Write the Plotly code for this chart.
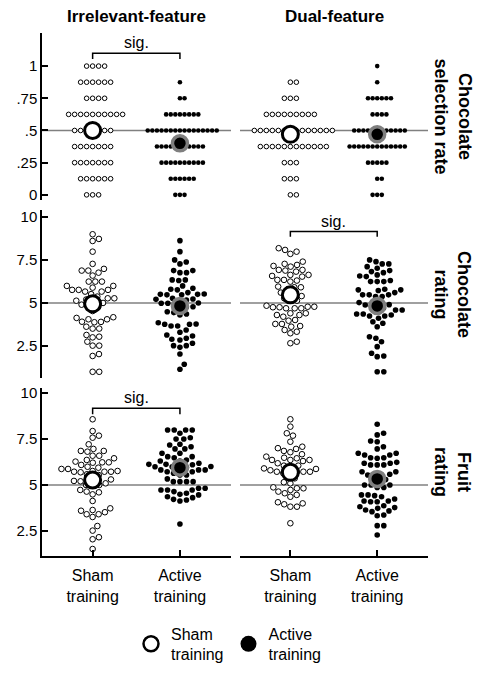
import numpy as np
import plotly.graph_objects as go

# ---- data ----
groups = ["Sham<br>training", "Active<br>training"]
conditions = ["Irrelevant-feature", "Dual-feature"]
measures = ["Chocolate<br>selection rate", "Chocolate<br>rating", "Fruit<br>rating"]

# chocolate selection rate: number of participants at each level
sel_levels = [0, 0.125, 0.25, 0.375, 0.5, 0.625, 0.75, 0.875, 1]
irr_sham_sel_counts = [3, 6, 7, 7, 7, 10, 4, 6, 4]
irr_active_sel_counts = [3, 6, 10, 11, 16, 8, 2, 1, 0]
dual_sham_sel_counts = [2, 3, 3, 12, 14, 9, 3, 2, 0]
dual_active_sel_counts = [3, 2, 5, 13, 12, 4, 6, 1, 1]

irr_sham_choc = [8.99, 8.72, 8.6, 7.98, 7.27, 6.98, 6.88, 6.76, 6.88, 6.59, 6.24, 6.24, 6.24,
                 5.99, 5.99, 5.76, 5.66, 5.76, 5.76, 5.66, 5.89, 5.51, 5.37, 5.27, 5.27, 5.13,
                 4.75, 4.53, 4.17, 4.05, 3.91, 4.05, 4.13, 3.9, 3.88, 3.51, 3.62, 3.51, 3.04,
                 3.14, 3.0, 2.75, 2.52, 2.52, 2.03, 1.92, 1.0, 1.0, 5.0, 4.9, 5.1, 4.8, 5.2]
irr_active_choc = [8.62, 7.98, 7.38, 7.5, 7.27, 6.76, 6.88, 6.88, 6.76, 6.3, 6.34, 6.34, 5.99,
                   5.85, 5.76, 5.8, 5.5, 5.6, 5.47, 5.47, 5.5, 5.52, 5.27, 5.17, 5.21, 5.23,
                   4.98, 4.98, 4.78, 4.78, 4.49, 4.44, 4.3, 4.36, 3.76, 3.85, 3.66, 3.78, 3.66,
                   3.76, 3.3, 3.43, 3.08, 2.95, 3.14, 2.85, 2.89, 2.66, 2.42, 2.52, 2.52, 2.03,
                   1.44, 1.15, 4.9, 5.0, 4.7, 5.1]
dual_sham_choc = [8.18, 7.98, 8.08, 7.85, 7.27, 7.4, 7.11, 7.21, 7.15, 6.63, 6.92, 6.82, 6.92,
                  6.88, 6.34, 6.34, 6.53, 6.63, 6.24, 6.57, 6.3, 5.8, 5.95, 5.91, 5.91, 5.13,
                  5.27, 5.13, 4.69, 4.75, 4.78, 4.69, 4.75, 4.78, 4.69, 4.84, 4.2, 4.4, 4.3,
                  4.3, 4.4, 3.78, 3.62, 3.78, 4.01, 3.66, 3.97, 3.33, 3.43, 3.24, 2.66, 2.75,
                  5.4, 5.5, 5.6]
dual_active_choc = [7.5, 7.27, 7.27, 7.4, 7.02, 7.11, 6.88, 6.82, 6.63, 6.76, 6.53, 6.57, 6.24,
                    6.3, 6.24, 6.24, 5.76, 5.6, 5.8, 5.76, 5.72, 5.47, 5.37, 5.47, 5.47, 5.37,
                    4.88, 5.02, 4.59, 4.24, 4.36, 4.24, 4.11, 4.36, 4.3, 3.62, 3.82, 3.91, 2.95,
                    2.75, 3.04, 2.46, 1.92, 1.88, 2.08, 1.0, 1.0, 4.7, 4.9, 5.0, 4.8, 4.59, 4.59]

irr_sham_fruit = [8.57, 7.93, 7.68, 7.57, 7.21, 6.96, 6.81, 6.85, 6.85, 6.36, 6.59, 6.45, 6.23,
                  6.27, 6.23, 6.59, 6.21, 5.99, 6.09, 5.94, 5.87, 5.76, 5.87, 5.72, 5.72, 5.76,
                  5.54, 5.69, 5.58, 5.72, 5.22, 5.0, 5.0, 5.09, 5.0, 4.6, 4.49, 4.73, 4.64, 4.13,
                  3.73, 3.6, 3.41, 3.52, 3.64, 3.41, 3.26, 2.52, 2.77, 2.05, 2.16, 1.52, 5.2,
                  5.4, 5.3]
irr_active_fruit = [7.99, 7.99, 7.99, 7.99, 7.81, 7.5, 7.57, 7.5, 7.17, 7.21, 7.08, 6.96, 6.72,
                    6.96, 6.72, 6.48, 6.3, 6.54, 6.54, 6.36, 6.3, 6.12, 6.12, 6.18, 5.99, 5.99,
                    5.72, 5.82, 5.82, 5.72, 5.82, 5.64, 5.54, 5.54, 5.33, 5.18, 5.18, 5.18, 5.18,
                    4.73, 4.73, 4.64, 4.73, 4.82, 4.82, 4.49, 4.36, 4.46, 4.31, 4.55, 4.22, 4.13,
                    4.18, 2.88, 5.9, 6.0, 6.1, 5.95]
dual_sham_fruit = [8.57, 8.17, 7.81, 7.68, 7.35, 7.0, 6.85, 7.08, 6.78, 6.96, 6.67, 6.48, 6.54,
                   6.45, 6.36, 6.18, 6.36, 6.36, 6.3, 5.99, 6.05, 6.05, 5.87, 5.72, 5.72, 5.64,
                   5.72, 5.15, 5.36, 5.09, 4.73, 4.82, 4.87, 4.82, 4.46, 4.55, 4.36, 4.64, 3.95,
                   4.06, 3.82, 4.0, 3.82, 2.92, 5.6, 5.8, 5.7, 5.9]
dual_active_fruit = [8.3, 7.72, 7.81, 7.35, 7.39, 7.08, 6.96, 6.72, 6.63, 6.72, 6.63, 6.48, 6.18,
                     6.23, 6.48, 6.18, 6.45, 6.09, 6.09, 6.09, 5.72, 5.58, 5.72, 5.54, 5.58, 5.0,
                     4.86, 5.0, 4.86, 5.0, 4.46, 4.24, 4.36, 4.46, 4.42, 3.77, 4.13, 4.09, 3.87,
                     4.13, 4.09, 3.82, 3.59, 3.64, 3.73, 3.37, 3.33, 3.55, 2.79, 2.79, 2.28, 5.3,
                     5.2, 5.4]

# group means (irr sham, irr active, dual sham, dual active)
sel_means = [0.50, 0.40, 0.47, 0.47]
choc_means = [4.95, 4.83, 5.47, 4.83]
fruit_means = [5.27, 5.94, 5.69, 5.33]

# significant sham vs active comparisons: (row, column)
sig_pairs = [(0, 0), (1, 1), (2, 0)]

sel_ticks = [0, 0.25, 0.5, 0.75, 1]
sel_ticktext = ["0", ".25", ".5", ".75", "1"]
rating_ticks = [2.5, 5, 7.5, 10]
rating_ticktext = ["2.5", "5", "7.5", "10"]
ref_values = [0.5, 5, 5]

# ---- layout geometry (window pixels) ----
WIN_W, WIN_H = 489, 680
OFF = 8                      # default body margin of the html page
W, H = WIN_W - OFF, WIN_H - OFF
col_px = [(42, 231), (240, 428)]
row_px = [(33, 200), (210, 378), (388, 556)]
x_range = [-0.58, 1.585]
y_ranges = [(-0.04, 1.257), (0.64, 10.4), (1.14, 10.27)]
sig_y = [(1.10, 1.055), (9.15, 8.84), (9.17, 8.84)]
dot_size = [4.6, 5.6, 5.6]
swarm_gap = [(6.0, 4.6), (6.6, 6.6), (6.6, 6.6)]   # (sham, active) per row
FONT = "Liberation Sans, Arial, sans-serif"


def fx(px):
    return (px - OFF) / W


def fy(py):
    return 1 - (py - OFF) / H


def swarm_offsets(vals, ppy, d):
    ys = np.asarray(vals, float) * ppy
    xs = np.zeros(len(ys))
    placed = []
    for i in np.argsort(ys, kind="stable"):
        y = ys[i]
        cands = [0.0]
        for j in placed:
            dy = ys[j] - y
            if abs(dy) < d:
                dx = np.sqrt(d * d - dy * dy)
                cands += [xs[j] + dx, xs[j] - dx]
        cands.sort(key=abs)
        for cx in cands:
            if all((xs[j] - cx) ** 2 + (ys[j] - y) ** 2 >= d * d - 1e-6 for j in placed):
                xs[i] = cx
                break
        placed.append(i)
    return xs


sel_data = [np.repeat(sel_levels, n) for n in
            (irr_sham_sel_counts, irr_active_sel_counts, dual_sham_sel_counts, dual_active_sel_counts)]
panel_data = [
    [[sel_data[0], sel_data[1]], [sel_data[2], sel_data[3]]],
    [[irr_sham_choc, irr_active_choc], [dual_sham_choc, dual_active_choc]],
    [[irr_sham_fruit, irr_active_fruit], [dual_sham_fruit, dual_active_fruit]],
]
panel_means = [sel_means, choc_means, fruit_means]

fig = go.Figure()
layout = {}
shapes = []
annotations = []

for r in range(3):
    for c in range(2):
        k = r * 2 + c + 1
        xn, yn = ("x" if k == 1 else f"x{k}"), ("y" if k == 1 else f"y{k}")
        x0, x1 = col_px[c]
        y0, y1 = row_px[r]
        ppx = (x1 - x0) / (x_range[1] - x_range[0])
        ppy = (y1 - y0) / (y_ranges[r][1] - y_ranges[r][0])

        xa = dict(domain=[fx(x0), fx(x1)], range=x_range, anchor=yn, showgrid=False,
                  zeroline=False, fixedrange=True, automargin=False)
        if r == 2:
            xa.update(showline=True, linecolor="black", linewidth=1.5, ticks="inside",
                      ticklen=6, tickwidth=1.5, tickcolor="black", tickvals=[0, 1],
                      ticktext=groups, tickfont=dict(family=FONT, size=16, color="black"),
                      ticklabelstandoff=4)
        else:
            xa.update(showline=False, showticklabels=False, ticks="")
        ya = dict(domain=[fy(y1), fy(y0)], range=list(y_ranges[r]), anchor=xn,
                  showgrid=False, zeroline=False, fixedrange=True, automargin=False)
        if c == 0:
            ya.update(showline=True, linecolor="black", linewidth=1.5, ticks="inside",
                      ticklen=6, tickwidth=1.5, tickcolor="black",
                      tickvals=sel_ticks if r == 0 else rating_ticks,
                      ticktext=sel_ticktext if r == 0 else rating_ticktext,
                      tickfont=dict(family=FONT, size=15, color="black"))
        else:
            ya.update(showline=False, showticklabels=False, ticks="")
        layout["xaxis" if k == 1 else f"xaxis{k}"] = xa
        layout["yaxis" if k == 1 else f"yaxis{k}"] = ya

        # reference line
        shapes.append(dict(type="line", xref=f"{xn} domain", yref=yn, x0=0, x1=1,
                           y0=ref_values[r], y1=ref_values[r], layer="below",
                           line=dict(color="#808080", width=1.5)))

        for g in range(2):
            vals = np.asarray(panel_data[r][c][g], float)
            offs = swarm_offsets(vals, ppy, swarm_gap[r][g]) / ppx
            if g == 0:
                mk = dict(size=dot_size[r], color="white", line=dict(color="black", width=1))
            else:
                mk = dict(size=dot_size[r], color="black", line=dict(width=0))
            fig.add_trace(go.Scatter(x=g + offs, y=vals, mode="markers", marker=mk,
                                     xaxis=xn, yaxis=yn, showlegend=False, hoverinfo="y"))
        for g in range(2):
            m = panel_means[r][c * 2 + g]
            if g == 0:
                mk = dict(size=16, color="white", line=dict(color="black", width=3))
            else:
                mk = dict(size=15, color="black", line=dict(color="#7f7f7f", width=3.5))
            fig.add_trace(go.Scatter(x=[g], y=[m], mode="markers", marker=mk,
                                     xaxis=xn, yaxis=yn, showlegend=False, hoverinfo="y"))

        if (r, c) in sig_pairs:
            top, end = sig_y[r]
            shapes.append(dict(type="path", xref=xn, yref=yn,
                               path=f"M 0,{end} L 0,{top} L 1,{top} L 1,{end}",
                               line=dict(color="black", width=1.5)))
            annotations.append(dict(x=0.5, y=top, xref=xn, yref=yn, text="sig.",
                                    showarrow=False, xanchor="center", yanchor="bottom",
                                    font=dict(family=FONT, size=16, color="black")))

# column titles
for c, name in enumerate(conditions):
    x0, x1 = col_px[c]
    annotations.append(dict(x=fx((x0 + x1) / 2), y=fy(17), xref="paper", yref="paper",
                            text=f"<b>{name}</b>", showarrow=False,
                            xanchor="center", yanchor="middle",
                            font=dict(family=FONT, size=17, color="black")))
# row labels on the right
for r, name in enumerate(measures):
    y0, y1 = row_px[r]
    annotations.append(dict(x=fx(453), y=fy((y0 + y1) / 2), xref="paper", yref="paper",
                            text=f"<b>{name}</b>", showarrow=False, textangle=90,
                            xanchor="center", yanchor="middle",
                            font=dict(family=FONT, size=18, color="black")))

# legend entries
fig.add_trace(go.Scatter(x=[None], y=[None], mode="markers", name=groups[0],
                         marker=dict(size=15, color="white", line=dict(color="black", width=2.5)),
                         xaxis="x5", yaxis="y5"))
fig.add_trace(go.Scatter(x=[None], y=[None], mode="markers", name=groups[1],
                         marker=dict(size=17, color="black"), xaxis="x5", yaxis="y5"))

fig.update_layout(
    **layout,
    width=W, height=H,
    margin=dict(l=0, r=0, t=0, b=0),
    paper_bgcolor="white", plot_bgcolor="white",
    shapes=shapes, annotations=annotations,
    showlegend=True,
    legend=dict(orientation="h", x=fx(131), xanchor="left", y=fy(644), yanchor="middle",
                font=dict(family=FONT, size=16, color="black"), itemsizing="trace",
                bgcolor="rgba(0,0,0,0)", valign="middle"),
    font=dict(family=FONT, color="black"),
)

fig.write_html("out.html")
